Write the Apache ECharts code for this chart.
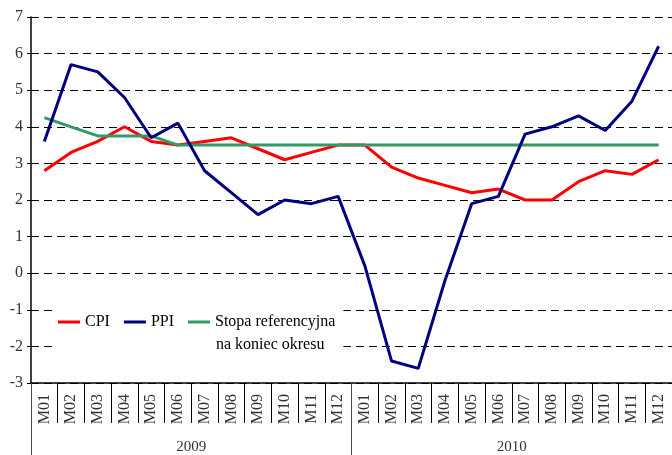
<!DOCTYPE html>
<html>
<head>
<meta charset="utf-8">
<script src="https://cdn.jsdelivr.net/npm/echarts@6/dist/echarts.min.js"></script>
<style>
  html, body { margin: 0; padding: 0; background: #fff; }
  #chart { width: 672px; height: 455px; }
</style>
</head>
<body>
<div id="chart"></div>
<script>
// dane
var months = ['M01','M02','M03','M04','M05','M06','M07','M08','M09','M10','M11','M12',
              'M01','M02','M03','M04','M05','M06','M07','M08','M09','M10','M11','M12'];
var years = ['2009', '2010'];
var cpi = [2.8, 3.3, 3.6, 4.0, 3.6, 3.5, 3.6, 3.7, 3.4, 3.1, 3.3, 3.5,
           3.5, 2.9, 2.6, 2.4, 2.2, 2.3, 2.0, 2.0, 2.5, 2.8, 2.7, 3.1];
var ppi = [3.6, 5.7, 5.5, 4.8, 3.7, 4.1, 2.8, 2.2, 1.6, 2.0, 1.9, 2.1,
           0.2, -2.4, -2.6, -0.2, 1.9, 2.1, 3.8, 4.0, 4.3, 3.9, 4.7, 6.2];
var stopa = [4.25, 4.0, 3.75, 3.75, 3.75, 3.5, 3.5, 3.5, 3.5, 3.5, 3.5, 3.5,
             3.5, 3.5, 3.5, 3.5, 3.5, 3.5, 3.5, 3.5, 3.5, 3.5, 3.5, 3.5];
var yTicks = [-3, 7, 1]; // min, max, interval

var FONT = '"Liberation Serif", "DejaVu Serif", serif';

var chart = echarts.init(document.getElementById('chart'));
var option = {
    animation: false,
    backgroundColor: '#fff',
    textStyle: { fontFamily: FONT },
    grid: { left: 31, right: 0, top: 17, bottom: 72, containLabel: false },
    legend: {
        data: ['CPI', 'PPI', 'Stopa referencyjna'],
        left: 52,
        top: 305,
        padding: [8, 8, 28, 6],
        backgroundColor: '#fff',
        itemWidth: 22,
        itemHeight: 3,
        itemGap: 14,
        icon: 'rect',
        textStyle: { fontFamily: FONT, fontSize: 16, color: '#000', lineHeight: 18 }
    },
    graphic: [{
        type: 'text',
        left: 216,
        top: 337,
        z: 100,
        style: { text: 'na koniec okresu', font: '16px ' + FONT, fill: '#000' }
    }],
    xAxis: [{
        type: 'category',
        data: months,
        boundaryGap: true,
        axisLine: { onZero: false, lineStyle: { color: '#000', width: 1.5 } },
        axisTick: { show: true, interval: 0, length: 40, lineStyle: { color: '#000', width: 1 } },
        axisLabel: { interval: 0, rotate: 90, margin: 11, fontSize: 16, color: '#333', fontFamily: FONT },
        splitLine: { show: false }
    }, {
        type: 'category',
        data: years,
        position: 'bottom',
        boundaryGap: true,
        axisLine: { show: false, onZero: false },
        axisTick: { show: true, interval: 0, length: 72, lineStyle: { color: '#444', width: 1 } },
        axisLabel: { margin: 57, fontSize: 15, color: '#333', fontFamily: FONT },
        splitLine: { show: false }
    }],
    yAxis: {
        type: 'value',
        min: yTicks[0],
        max: yTicks[1],
        interval: yTicks[2],
        axisLine: { show: true, lineStyle: { color: '#000', width: 1.5 } },
        axisTick: { show: true, length: 4, lineStyle: { color: '#000' } },
        axisLabel: { margin: 8, fontSize: 16, color: '#333', fontFamily: FONT },
        splitLine: { lineStyle: { color: '#000', type: [8, 5], width: 1 } }
    },
    series: [{
        name: 'CPI',
        type: 'line',
        data: cpi,
        symbol: 'none',
        itemStyle: { color: '#ff0000' },
        lineStyle: { color: '#ff0000', width: 3 }
    }, {
        name: 'Stopa referencyjna',
        type: 'line',
        data: stopa,
        symbol: 'none',
        itemStyle: { color: '#339966' },
        lineStyle: { color: '#339966', width: 3 }
    }, {
        name: 'PPI',
        type: 'line',
        data: ppi,
        symbol: 'none',
        itemStyle: { color: '#000080' },
        lineStyle: { color: '#000080', width: 3 }
    }]
};
chart.setOption(option);
</script>
</body>
</html>
